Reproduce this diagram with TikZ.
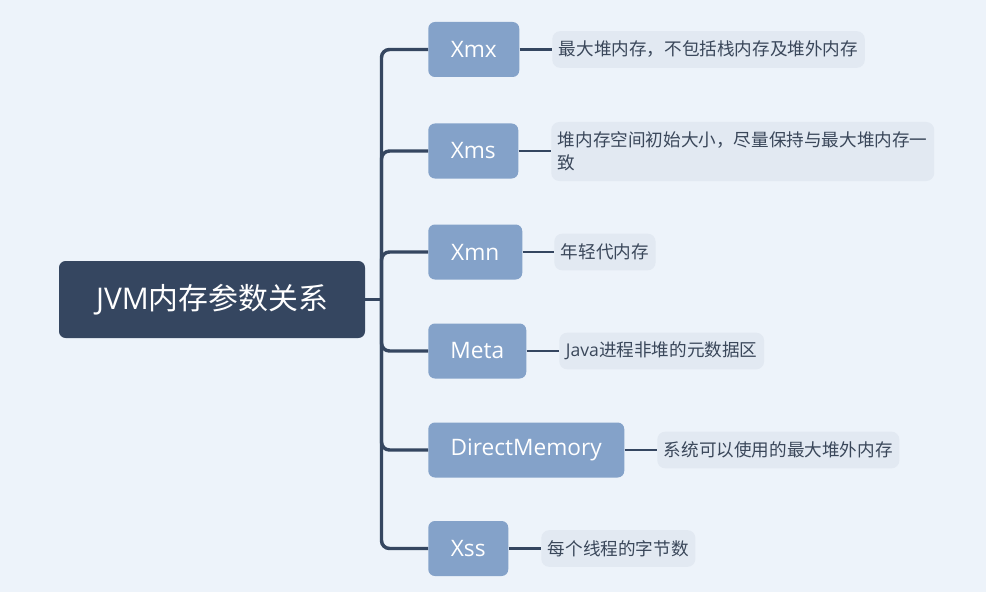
\documentclass[tikz,border=0pt]{standalone}
\usepackage{fontspec}
\setmainfont{Open Sans}
\newfontfamily\cjk{Noto Sans CJK SC}
\definecolor{bgc}{HTML}{EDF3FA}
\definecolor{rootc}{HTML}{354660}
\definecolor{branchc}{HTML}{84A2C9}
\definecolor{leafc}{HTML}{E2E9F2}
\definecolor{leaftext}{HTML}{3A475A}
\tikzset{
  rootbox/.style={fill=rootc, text=white, rounded corners=5pt, minimum width=229.5pt, minimum height=57.75pt, inner sep=0pt, font=\fontsize{22.4pt}{26pt}\selectfont},
  branchbox/.style={fill=branchc, text=white, rounded corners=5pt, minimum height=41.25pt, inner sep=0pt, anchor=west, font=\fontsize{17pt}{20pt}\selectfont},
  leafbox/.style={fill=leafc, text=leaftext, rounded corners=6pt, minimum height=27.5pt, inner xsep=5pt, inner ysep=2pt, anchor=west, align=left, font=\cjk\fontsize{13.2pt}{17.6pt}\selectfont},
  trunk/.style={draw=rootc, line width=2.6pt, rounded corners=6pt},
  leafline/.style={draw=rootc, line width=2pt},
}
\begin{document}
\begin{tikzpicture}[x=0.75pt,y=-0.75pt]
\fill[bgc] (0,0) rectangle (986,592);
\useasboundingbox (0,0) rectangle (986,592);

\node[rootbox] (root) at (212,299.5) {JVM{\cjk 内存参数关系}};

\node[branchbox, minimum width=68.25pt] (xmx) at (428,49.5) {Xmx};
\node[branchbox, minimum width=67.5pt] (xms) at (428,151) {Xms};
\node[branchbox, minimum width=70.5pt] (xmn) at (428,252) {Xmn};
\node[branchbox, minimum width=73.5pt] (meta) at (428,351) {Meta};
\node[branchbox, minimum width=147pt] (dm) at (428,450) {DirectMemory};
\node[branchbox, minimum width=60pt] (xss) at (428,548.5) {Xss};

\node[leafbox] (lxmx) at (552,49.5) {最大堆内存，不包括栈内存及堆外内存};
\node[leafbox, minimum height=44.25pt] (lxms) at (551,151.5) {堆内存空间初始大小，尽量保持与最大堆内存一\\致};
\node[leafbox] (lxmn) at (554,252) {年轻代内存};
\node[leafbox] (lmeta) at (559,351) {{\rmfamily Java}进程非堆的元数据区};
\node[leafbox] (ldm) at (657,450) {系统可以使用的最大堆外内存};
\node[leafbox] (lxss) at (541,548.5) {每个线程的字节数};

\coordinate (hub) at (381.5,299.5);
\draw[trunk] (root.east) -- (hub);
\foreach \b in {xmx,xms,xmn,meta,dm,xss}{
  \draw[trunk] (hub) |- (\b.west);
}
\foreach \b/\l in {xmx/lxmx,xms/lxms,xmn/lxmn,meta/lmeta,dm/ldm,xss/lxss}{
  \draw[leafline] (\b.east) -- (\b.east -| \l.west);
}
\end{tikzpicture}
\end{document}
